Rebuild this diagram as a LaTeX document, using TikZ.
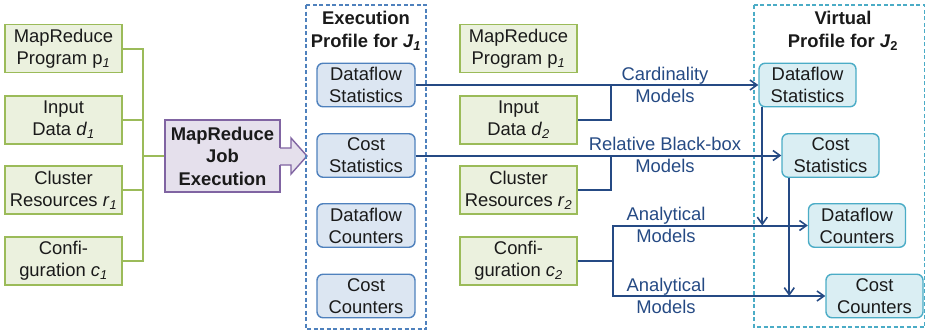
\documentclass[tikz,border=0pt]{standalone}
\usepackage{fontspec}
\setmainfont{Liberation Sans}
\usetikzlibrary{arrows.meta}
\definecolor{gfill}{HTML}{EBF1DE}
\definecolor{gdraw}{HTML}{9BBB59}
\definecolor{bfill}{HTML}{DCE6F2}
\definecolor{bdraw}{HTML}{4F81BD}
\definecolor{vfill}{HTML}{DAEEF3}
\definecolor{vdraw}{HTML}{4BACC6}
\definecolor{pfill}{HTML}{E5E0EC}
\definecolor{pdraw}{HTML}{8064A2}
\definecolor{lnblue}{HTML}{254A84}
\definecolor{txt}{HTML}{1A1A1A}
\newcommand{\sbi}[1]{\textsubscript{\textit{#1}}}
\begin{document}
\begin{tikzpicture}[x=1pt,y=-1pt,
  every node/.style={font=\fontsize{18.4}{22}\selectfont, text=txt, align=center, inner sep=0pt},
  gbox/.style={draw=gdraw, fill=gfill, line width=1.5pt, minimum width=117pt, minimum height=48pt},
  bbox/.style={draw=bdraw, fill=bfill, line width=1.4pt, rounded corners=6pt, minimum width=98pt, minimum height=43.5pt},
  vbox/.style={draw=vdraw, fill=vfill, line width=1.4pt, rounded corners=6pt, minimum width=97pt, minimum height=43.5pt},
  gline/.style={draw=gdraw, line width=2pt},
  bline/.style={draw=lnblue, line width=2pt},
  barr/.style={bline, -{Straight Barb[length=7pt,width=10pt,line width=1.6pt]}},
  lbl/.style={text=lnblue},
  ttl/.style={font=\fontsize{18.4}{22.5}\selectfont\bfseries}
]
\useasboundingbox (0,0) rectangle (926,332);
% left inputs
\node[gbox] (p1) at (63.5,48.5) {MapReduce\\Program p\sbi{1}};
\node[gbox] (d1) at (63.5,120) {Input\\Data \textit{d}\sbi{1}};
\node[gbox] (r1) at (63.5,190) {Cluster\\Resources \textit{r}\sbi{1}};
\node[gbox] (c1) at (63.5,261) {Confi-\\guration \textit{c}\sbi{1}};
% job execution
\node[draw=pdraw, fill=pfill, line width=1.5pt, minimum width=115pt, minimum height=72pt, font=\fontsize{18.4}{22.5}\selectfont\bfseries] (job) at (222.5,156) {MapReduce\\Job\\Execution};
\fill[pfill] (279,148.4) rectangle (292,164.6);
\path[draw=pdraw, fill=pfill, line width=1.4pt, line join=miter] (280,148) -- (291,148) -- (291,138) -- (307,156) -- (291,174) -- (291,165) -- (280,165);
\coordinate (jL) at (143,156);
\draw[gline] (p1.east) -| (jL);
\draw[gline] (c1.east) -| (jL);
\draw[gline] (d1.east) -- (d1.east -| jL);
\draw[gline] (r1.east) -- (r1.east -| jL);
\draw[gline] (jL) -- (job.west);
% execution profile
\draw[bdraw, line width=1.5pt, dash pattern=on 4pt off 2.5pt] (306,5) rectangle (426,329);
\node[ttl] (t1) at (366,31) {Execution\\Profile for \textit{J}\sbi{1}};
\node[bbox] (eDS) at (366,85) {Dataflow\\Statistics};
\node[bbox] (eCS) at (366,155.5) {Cost\\Statistics};
\node[bbox] (eDC) at (366,225.5) {Dataflow\\Counters};
\node[bbox] (eCC) at (366,296) {Cost\\Counters};
% middle inputs
\node[gbox] (p2) at (518.5,48.5) {MapReduce\\Program p\sbi{1}};
\node[gbox] (d2) at (518.5,120) {Input\\Data \textit{d}\sbi{2}};
\node[gbox] (r2) at (518.5,190) {Cluster\\Resources \textit{r}\sbi{2}};
\node[gbox] (c2) at (518.5,261) {Confi-\\guration \textit{c}\sbi{2}};
% virtual profile
\draw[vdraw, line width=1.5pt, dash pattern=on 4pt off 2.5pt] (754,5) rectangle (924.5,327);
\node[ttl] (t2) at (843,31) {Virtual\\Profile for \textit{J}\textsubscript{2}};
\node[vbox] (vDS) at (807.5,85) {Dataflow\\Statistics};
\node[vbox] (vCS) at (830.5,155.5) {Cost\\Statistics};
\node[vbox] (vDC) at (857,225.5) {Dataflow\\Counters};
\node[vbox] (vCC) at (874.5,296) {Cost\\Counters};
% connectors
\coordinate (jA) at (611,85);
\coordinate (jB) at (611,155.5);
\coordinate (jC) at (613,261);
\draw[barr] (eDS.east) -- (vDS.west);
\draw[bline] (d2.east) -| (jA);
\draw[barr] (eCS.east) -- (vCS.west);
\draw[bline] (r2.east) -| (jB);
\draw[bline] (c2.east) -- (jC);
\draw[barr] (jC) |- (vDC.west);
\draw[barr] (jC) |- (vCC.west);
\draw[barr] ([xshift=4pt]vDS.south west) -- ([xshift=4pt]vDS.south west |- vDC.west);
\draw[barr] ([xshift=8pt]vCS.south west) -- ([xshift=8pt]vCS.south west |- vCC.west);
% labels
\node[lbl] (L1) at (665,85) {Cardinality\\Models};
\node[lbl] (L2) at (665,155) {Relative Black-box\\Models};
\node[lbl] (L3) at (666,225) {Analytical\\Models};
\node[lbl] (L4) at (666,296) {Analytical\\Models};
\end{tikzpicture}
\end{document}
